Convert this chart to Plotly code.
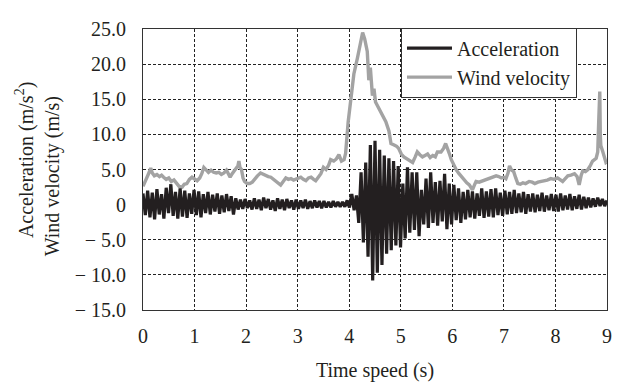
import plotly.graph_objects as go

# ---- data ----
ACC_T0 = 0.0
ACC_DT = 0.045  # half-period sampling (peak / trough alternation)
acceleration = [
    1.6, -1.5, 2.0, -1.8, 1.7, -2.1, 2.2, -1.4, 1.5, -2.0, 2.4, -1.2, 2.9, -1.6, 1.8, -2.0, 2.3, -1.7, 2.0, -1.9,
    1.6, -1.3, 2.1, -1.5, 1.9, -1.8, 1.5, -1.2, 1.8, -1.4, 1.4, -1.0, 1.6, -1.3, 1.3, -1.1, 1.5, -0.9, 1.2, -1.4,
    0.9, -0.7, 0.7, -0.6, 0.8, -0.5, 0.6, -0.7, 0.9, -0.6, 0.7, -0.8, 1.0, -0.5, 0.8, -0.7, 0.6, -0.9, 0.9, -0.6,
    0.7, -0.8, 0.8, -0.5, 0.6, -0.7, 0.7, -0.6, 0.6, -0.5, 0.7, -0.6, 0.5, -0.5, 0.6, -0.4, 0.5, -0.5, 0.5, -0.4,
    0.4, -0.4, 0.5, -0.3, 0.4, -0.3, 0.4, -0.3, 0.6, -0.4, 1.5, -0.8, 1.3, -2.6, 4.6, -5.4, 6.0, -7.4, 8.5, -10.8,
    9.1, -9.7, 7.8, -8.6, 7.0, -7.0, 6.6, -6.5, 6.2, -5.8, 5.5, -6.1, 3.0, -4.8, 5.3, -4.0, 4.6, -3.6, 4.6, -4.5,
    2.1, -2.8, 3.7, -3.3, 4.6, -2.6, 3.2, -3.0, 3.4, -2.4, 4.4, -3.5, 3.0, -2.8, 2.8, -2.2, 2.3, -2.6, 1.8, -2.1,
    2.1, -1.8, 1.9, -2.0, 1.6, -1.6, 2.3, -1.9, 1.9, -1.7, 2.2, -1.8, 2.3, -1.5, 1.7, -1.6, 2.0, -1.4, 1.8, -1.3,
    2.1, -1.2, 1.6, -1.1, 1.8, -1.3, 1.5, -1.0, 1.6, -1.1, 1.4, -0.9, 1.7, -1.0, 1.3, -0.8, 1.5, -0.9, 1.4, -1.0,
    1.6, -0.8, 1.3, -0.7, 1.5, -0.8, 1.2, -0.6, 1.4, -0.7, 1.1, -0.5, 1.0, -0.4, 0.9, -0.3, 1.0, -0.2, 0.8, -0.2,
    0.6,
]

wind_time = [
    0.00, 0.04, 0.08, 0.12, 0.15, 0.18, 0.22, 0.27, 0.32, 0.36, 0.40, 0.45, 0.50, 0.55, 0.60, 0.65, 0.70, 0.76,
    0.80, 0.85, 0.90, 0.95, 1.00, 1.05, 1.10, 1.14, 1.18, 1.22, 1.27, 1.32, 1.37, 1.42, 1.47, 1.52, 1.57, 1.62,
    1.66, 1.69, 1.73, 1.77, 1.80, 1.84, 1.86, 1.88, 1.91, 1.94, 1.97, 2.02, 2.07, 2.12, 2.17, 2.22, 2.28, 2.33,
    2.38, 2.43, 2.48, 2.53, 2.58, 2.63, 2.67, 2.72, 2.77, 2.82, 2.87, 2.92, 2.97, 3.02, 3.06, 3.11, 3.16, 3.21,
    3.26, 3.31, 3.35, 3.40, 3.45, 3.50, 3.55, 3.60, 3.64, 3.70, 3.75, 3.80, 3.85, 3.90, 3.93, 3.98, 4.03, 4.09,
    4.16, 4.22, 4.26, 4.30, 4.35, 4.38, 4.41, 4.45, 4.48, 4.51, 4.55, 4.58, 4.64, 4.71, 4.77, 4.81, 4.87, 4.92,
    4.96, 5.01, 5.06, 5.12, 5.18, 5.23, 5.28, 5.32, 5.37, 5.42, 5.47, 5.52, 5.57, 5.62, 5.67, 5.71, 5.78, 5.83,
    5.87, 5.91, 5.94, 5.98, 6.03, 6.08, 6.13, 6.18, 6.23, 6.28, 6.33, 6.39, 6.43, 6.46, 6.52, 6.59, 6.65, 6.72,
    6.78, 6.85, 6.90, 6.95, 7.00, 7.04, 7.08, 7.11, 7.15, 7.19, 7.23, 7.27, 7.32, 7.37, 7.42, 7.49, 7.55, 7.60,
    7.66, 7.72, 7.78, 7.84, 7.91, 7.97, 8.04, 8.09, 8.14, 8.19, 8.24, 8.30, 8.37, 8.42, 8.46, 8.50, 8.53, 8.58,
    8.63, 8.68, 8.72, 8.79, 8.82, 8.84, 8.86, 8.87, 8.88, 8.92, 8.95, 8.98, 9.00,
]
wind_velocity = [
    2.6, 3.2, 3.9, 4.6, 5.2, 4.5, 4.1, 4.3, 4.0, 4.2, 3.9, 3.6, 3.8, 3.3, 3.5, 3.0, 2.6, 2.5,
    2.9, 3.0, 3.6, 3.9, 3.7, 3.4, 3.8, 4.4, 5.3, 4.9, 4.6, 4.9, 4.6, 4.5, 4.6, 4.3, 4.5, 4.9,
    4.4, 3.9, 4.4, 4.9, 5.1, 5.5, 6.2, 5.3, 5.0, 3.8, 3.3, 3.0, 3.0, 3.2, 3.7, 4.1, 4.5, 4.3,
    4.2, 4.0, 3.9, 3.6, 3.3, 3.0, 2.8, 3.3, 3.8, 3.6, 3.7, 3.5, 3.6, 3.7, 3.9, 3.6, 3.4, 3.8,
    3.9, 3.6, 3.4, 3.9, 4.4, 5.3, 5.0, 5.6, 6.4, 6.2, 6.5, 7.1, 6.2, 6.4, 7.3, 11.8, 15.0, 18.6,
    20.9, 23.2, 24.5, 23.6, 21.8, 17.7, 19.5, 15.5, 16.5, 14.6, 14.0, 13.6, 12.8, 11.8, 10.5, 8.7, 8.5, 8.3,
    8.0, 7.2, 6.8, 6.5, 6.3, 6.0, 6.8, 7.5, 7.1, 6.8, 7.0, 7.2, 6.7, 7.0, 6.8, 7.5, 7.5, 8.0,
    8.7, 8.0, 7.3, 6.4, 5.5, 4.9, 4.4, 3.9, 3.4, 3.1, 2.8, 2.1, 2.8, 3.3, 3.2, 3.4, 3.6, 3.7,
    3.9, 4.1, 4.0, 3.8, 3.9, 3.7, 4.5, 5.5, 4.9, 4.7, 3.8, 3.0, 2.9, 3.1, 3.0, 3.3, 3.2, 3.0,
    3.2, 3.3, 3.3, 3.5, 3.7, 3.6, 3.8, 3.5, 3.3, 3.7, 4.1, 4.2, 4.4, 4.0, 2.8, 4.2, 4.8, 4.7,
    5.0, 5.6, 6.2, 6.6, 7.5, 12.0, 16.1, 10.0, 8.4, 7.5, 6.8, 6.0, 6.1,
]

y_tick_values = [-15, -10, -5, 0, 5, 10, 15, 20, 25]
y_tick_labels = ["\u2212 15.0", "\u2212 10.0", "\u2212 5.0", "0", "5.0", "10.0", "15.0", "20.0", "25.0"]
x_tick_values = [0, 1, 2, 3, 4, 5, 6, 7, 8, 9]

FONT = "Liberation Serif, Times New Roman, serif"
TXT = "#231f20"

fig = go.Figure()
fig.add_trace(go.Scatter(
    x=wind_time, y=wind_velocity, mode="lines", name="Wind velocity",
    line=dict(color="#a3a3a3", width=3.4), legendrank=2,
))
fig.add_trace(go.Scatter(
    y=acceleration, x0=ACC_T0, dx=ACC_DT, mode="lines", name="Acceleration",
    line=dict(color=TXT, width=3.2), legendrank=1,
))

axis_common = dict(
    showline=True, linecolor="#333", linewidth=1, mirror=True,
    showgrid=True, gridcolor="#222", gridwidth=1, griddash="3px,2px",
    zeroline=False, ticks="", tickfont=dict(family=FONT, size=20, color=TXT),
)

# page body has an 8px margin, so the figure is 8px smaller and shifted by 8px
fig.update_layout(
    width=614, height=379,
    margin=dict(l=135, r=15, t=10, b=75),
    paper_bgcolor="white", plot_bgcolor="white",
    font=dict(family=FONT, size=20, color=TXT),
    showlegend=True,
    legend=dict(
        x=0.556, y=1.005, xanchor="left", yanchor="top",
        bordercolor="#333", borderwidth=1, bgcolor="white",
        font=dict(family=FONT, size=20, color=TXT),
        itemwidth=45,
    ),
    xaxis=dict(range=[0, 9], tickvals=x_tick_values, ticklabelstandoff=8,
               title=dict(text="Time speed (s)", standoff=16,
                          font=dict(family=FONT, size=20, color=TXT)),
               **axis_common),
    yaxis=dict(range=[-15, 25], tickvals=y_tick_values, ticktext=y_tick_labels,
               ticklabelstandoff=12, **axis_common),
    annotations=[
        dict(text="Acceleration (m/s<sup>2</sup>)", textangle=-90, xref="paper", yref="paper",
             x=-0.254, y=0.534, showarrow=False, xanchor="center", yanchor="middle",
             font=dict(family=FONT, size=20, color=TXT)),
        dict(text="Wind velocity (m/s)", textangle=-90, xref="paper", yref="paper",
             x=-0.196, y=0.476, showarrow=False, xanchor="center", yanchor="middle",
             font=dict(family=FONT, size=20, color=TXT)),
    ],
)

fig.write_html("out.html")
